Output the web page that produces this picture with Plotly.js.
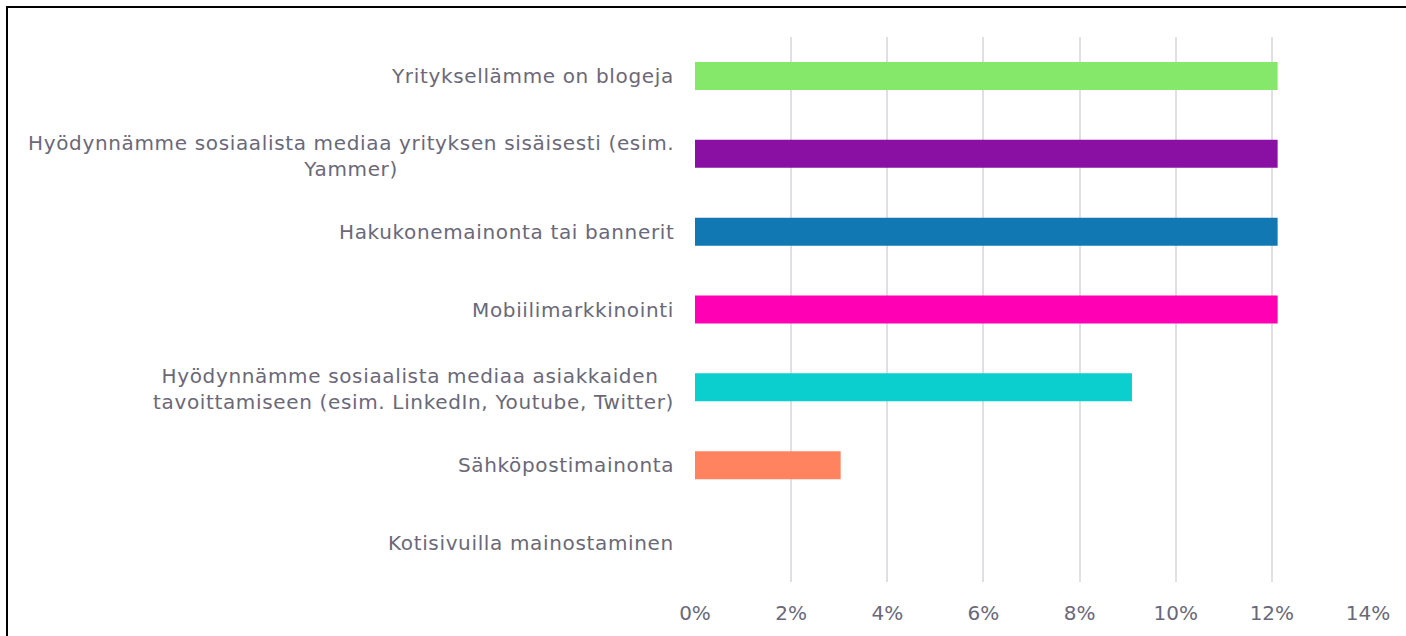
<!DOCTYPE html>
<html>
<head>
<meta charset="utf-8">
<script src="https://cdn.plot.ly/plotly-3.0.1.min.js"></script>
<style>
html,body{margin:0;padding:0;overflow:hidden;background:#fff;}
#wrap{position:relative;width:1406px;height:636px;overflow:hidden;}
#frame{position:absolute;left:6px;top:6px;width:1420px;height:660px;border:2px solid #000;box-sizing:border-box;pointer-events:none;z-index:5;}
#chart{position:absolute;left:0;top:0;width:1406px;height:636px;}
.annotation-text{letter-spacing:0.65px;}
</style>
</head>
<body>
<div id="wrap"><div id="chart"></div><div id="frame"></div></div>
<script>
const categories = [
  "Yrityksellämme on blogeja",
  "Hyödynnämme sosiaalista mediaa yrityksen sisäisesti (esim.<br>Yammer)",
  "Hakukonemainonta tai bannerit",
  "Mobiilimarkkinointi",
  "Hyödynnämme sosiaalista mediaa asiakkaiden <br>tavoittamiseen (esim. LinkedIn, Youtube, Twitter)",
  "Sähköpostimainonta",
  "Kotisivuilla mainostaminen"
];
const values = [0.1212, 0.1212, 0.1212, 0.1212, 0.0909, 0.0303, 0];
const barColors = ["#86e86b", "#8a0fa3", "#1278b3", "#ff00b4", "#0bcfcf", "#ff835e", "#999999"];
const tickVals = [0, 0.02, 0.04, 0.06, 0.08, 0.10, 0.12, 0.14];
const tickText = ["0%", "2%", "4%", "6%", "8%", "10%", "12%", "14%"];

const textColor = "#6b6878";
const fontFam = "'DejaVu Sans', Verdana, sans-serif";

const trace = {
  type: "bar",
  orientation: "h",
  x: values,
  y: categories,
  marker: {color: barColors},
  hoverinfo: "none"
};

const annotations = categories.map(c => ({
  xref: "paper", yref: "y",
  x: 0, y: c,
  xanchor: "right", yanchor: "middle",
  xshift: -19,
  yshift: c.indexOf("<br>") >= 0 ? -2 : 0,
  align: "center",
  showarrow: false,
  text: c,
  font: {family: fontFam, size: 20, color: textColor}
}));

const layout = {
  width: 1406, height: 636,
  margin: {l: 695, r: 37.5, t: 37, b: 54},
  paper_bgcolor: "rgba(0,0,0,0)",
  plot_bgcolor: "#fff",
  bargap: 0.64,
  showlegend: false,
  font: {family: fontFam, size: 20, color: textColor},
  xaxis: {
    range: [0, 0.14],
    tickvals: tickVals,
    ticktext: tickText,
    showgrid: true,
    gridcolor: "#e0dfe4",
    gridwidth: 2,
    zeroline: false,
    showline: false,
    ticks: "",
    ticklabelstandoff: 17,
    tickfont: {family: fontFam, size: 20, color: textColor},
    fixedrange: true
  },
  yaxis: {
    type: "category",
    autorange: "reversed",
    showticklabels: false,
    showgrid: false,
    zeroline: false,
    showline: false,
    ticks: "",
    fixedrange: true
  },
  annotations: annotations
};

Plotly.newPlot("chart", [trace], layout, {displayModeBar: false, staticPlot: true});
</script>
</body>
</html>
